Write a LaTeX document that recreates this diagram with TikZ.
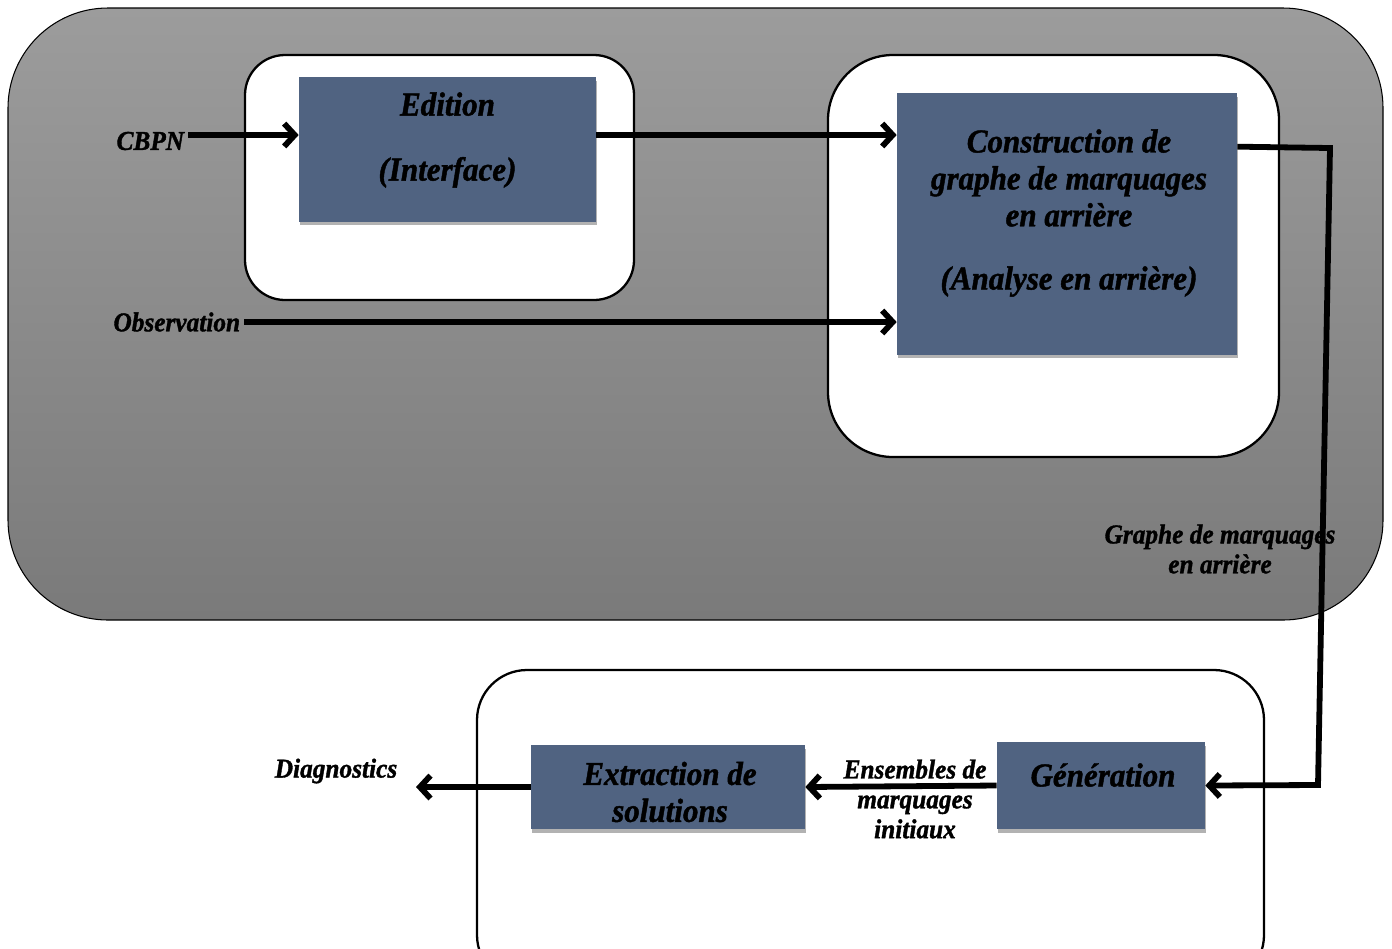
\documentclass[tikz,border=0pt]{standalone}
\usepackage{fontspec}
\setmainfont{Liberation Serif}
\newfontfamily\labfont[FakeStretch=0.93, FakeBold=1.3, UprightFont=* Bold Italic, BoldFont=* Bold Italic,
  ItalicFont=* Bold Italic, BoldItalicFont=* Bold Italic]{Liberation Serif}
\usetikzlibrary{arrows.meta,shadows,calc}

\definecolor{gtop}{RGB}{156,156,156}
\definecolor{gbot}{RGB}{122,122,122}
\definecolor{boxblue}{RGB}{80,99,129}

\tikzset{
  panel/.style={draw=black, line width=1.3pt, fill=white},
  stepbox/.style={fill=boxblue, draw=none, inner sep=0pt,
    drop shadow={shadow xshift=0.25mm, shadow yshift=-0.7mm, opacity=0.3, fill=black}},
  boxtext/.style={align=center, font=\labfont\fontsize{19}{21}\selectfont, text=black},
  lbl/.style={align=center, font=\labfont\fontsize{15.5}{17}\selectfont, text=black, inner sep=2pt},
  arr/.style={line width=3.3pt, -{Straight Barb[length=6pt, width=13pt]}}
}

\begin{document}
\begin{tikzpicture}[x=0.02cm, y=-0.02cm]
\useasboundingbox (0,0) rectangle (1392,948);

% shaded outer frame
\draw[line width=0.6pt, rounded corners=2cm, top color=gtop, bottom color=gbot] (8,8) rectangle (1383,620);

% white panels
\draw[panel, rounded corners=0.8cm] (245,55) rectangle (634,300);
\draw[panel, rounded corners=1.3cm] (828,55) rectangle (1279,457);
\draw[panel, rounded corners=1cm] (477,670) rectangle (1264,985);

% process boxes
\node[stepbox, minimum width=5.94cm, minimum height=2.9cm] (edition) at (447.5,149.5) {};
\node[boxtext] (edition-t) at (447.5,140) {Edition\\[16pt](Interface)};

\node[stepbox, minimum width=6.8cm, minimum height=5.24cm] (cons) at (1067,224) {};
\node[boxtext] (cons-t) at (1069,213) {Construction de\\graphe de marquages\\en arrière\\[15pt](Analyse en arrière)};

\node[stepbox, minimum width=5.48cm, minimum height=1.68cm] (extr) at (668,787) {};
\node[boxtext] (extr-t) at (670,792) {Extraction de\\solutions};

\node[stepbox, minimum width=4.16cm, minimum height=1.74cm] (gen) at (1101,785.5) {};
\node[boxtext] (gen-t) at (1103,775) {Génération};

% free labels
\node[lbl, anchor=east] (cbpn) at (188,141) {CBPN};
\node[lbl, anchor=east] (obs) at (244,322) {Observation};
\node[lbl] (graphe) at (1220,549) {Graphe de marquages\\en arrière};
\node[lbl] (ens) at (915,799) {Ensembles de\\marquages\\initiaux};
\node[lbl] (diag) at (336,771) {Diagnostics};

% connection points
\coordinate (ein) at ([yshift=0.29cm]edition.west);
\coordinate (bend1) at (1330,148);
\coordinate (bend2) at (1318,785);
\coordinate (diagtip) at (416,787);

% connectors
\draw[arr] (cbpn.east |- ein) -- (ein);
\draw[arr] (ein -| edition.east) -- (ein -| cons.west);
\draw[arr] (obs.east) -- (obs.east -| cons.west);
\draw[arr] ([yshift=-1.08cm]cons.north east) -- (bend1) -- (bend2) -- (gen.east);
\draw[arr] (gen.west) -- (extr.east);
\draw[arr] (extr.west) -- (diagtip);
\end{tikzpicture}
\end{document}
